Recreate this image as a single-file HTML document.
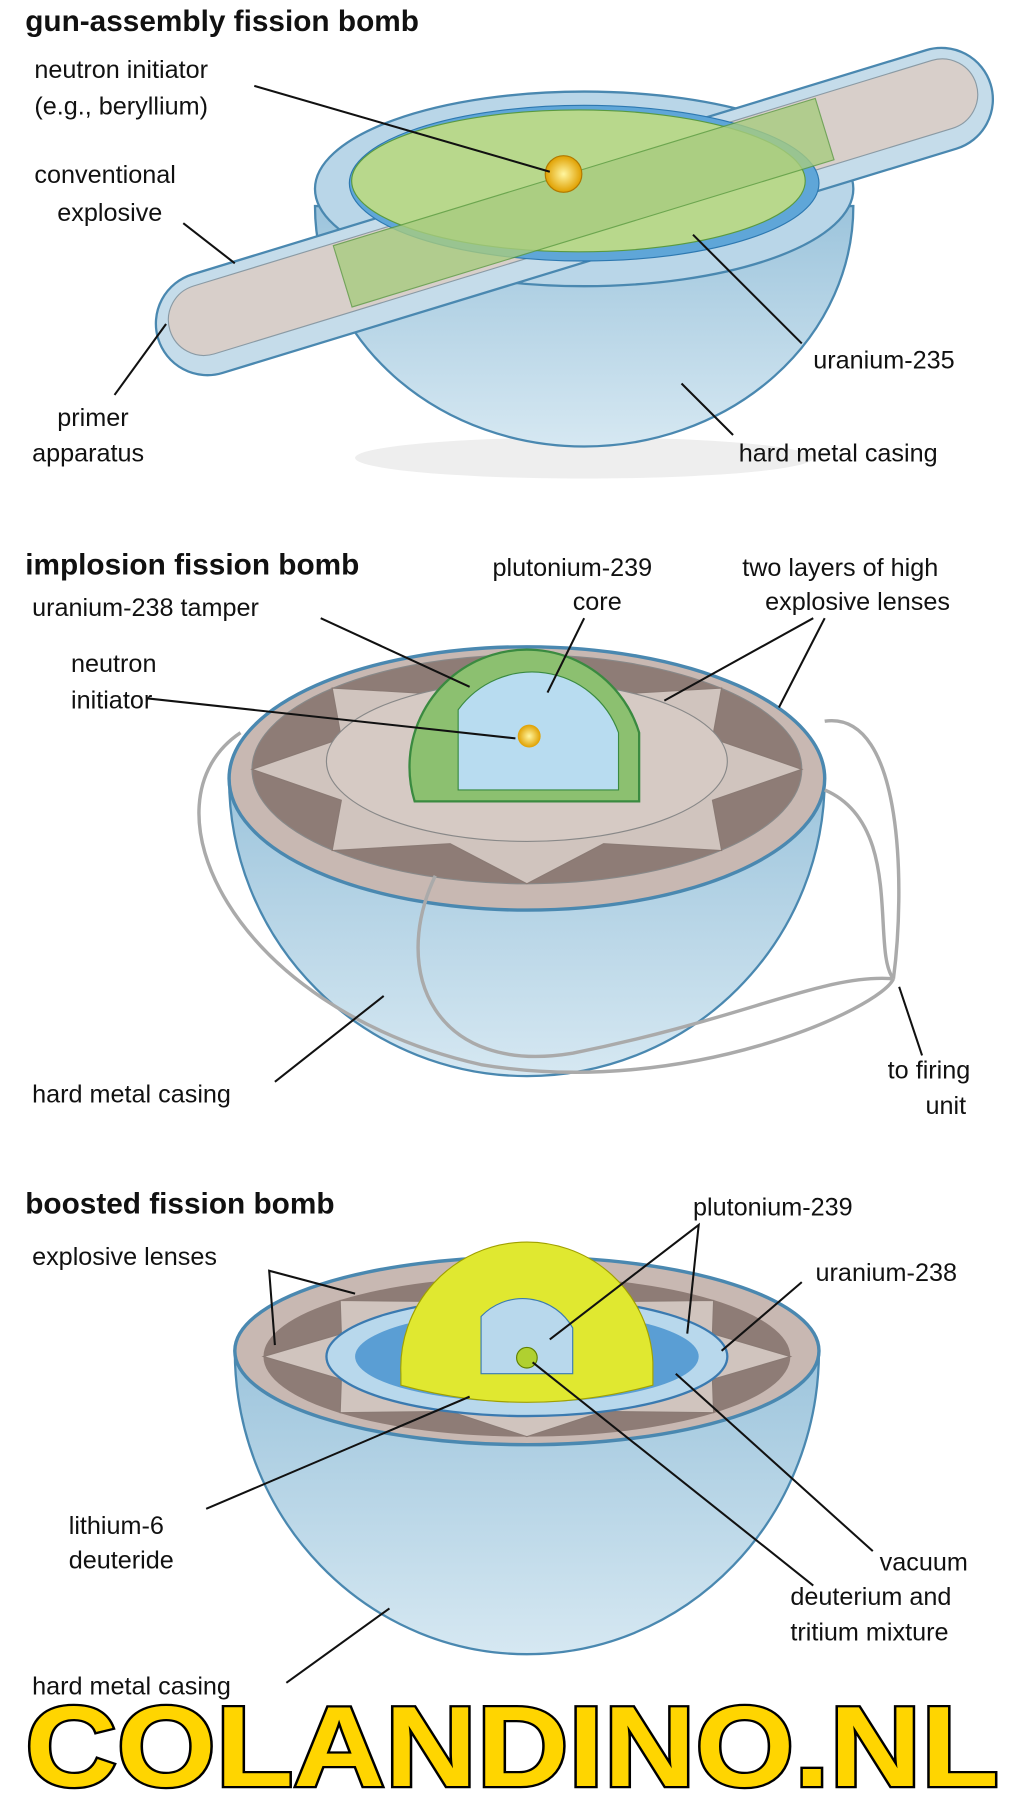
<!DOCTYPE html>
<html><head><meta charset="utf-8"><style>
html,body{margin:0;padding:0;background:#fff;}
svg{display:block;}
text{font-family:"Liberation Sans",sans-serif;fill:#111;}
</style></head><body>
<svg width="1024" height="1795" viewBox="0 0 894 1568" preserveAspectRatio="none" xmlns="http://www.w3.org/2000/svg">
<defs>
<linearGradient id="bowl" x1="0" y1="0" x2="0" y2="1"><stop offset="0" stop-color="#9cc4dc"/><stop offset="1" stop-color="#d6e8f2"/></linearGradient>
<radialGradient id="gold"><stop offset="0" stop-color="#fff6a0"/><stop offset="1" stop-color="#e0a000"/></radialGradient>
</defs>
<!-- GUN -->
<text x="22" y="27" font-size="26" font-weight="bold">gun-assembly fission bomb</text>
<ellipse cx="510" cy="400" rx="200" ry="18" fill="#eee"/>
<path d="M275 180 A235 210 0 0 0 745 180 Z" fill="url(#bowl)" stroke="#4a88b0" stroke-width="2"/>
<ellipse cx="510" cy="165" rx="235" ry="85" fill="#b9d6e8" stroke="#4a88b0" stroke-width="2"/>
<g transform="rotate(-17 500 180)">
<rect x="120" y="140" width="760" height="90" rx="45" fill="#c5dcea" stroke="#4a88b0" stroke-width="2"/>
<rect x="132" y="150" width="736" height="62" rx="31" fill="#d8cfca" stroke="#8a9aa4"/>
</g>
<ellipse cx="510" cy="160" rx="205" ry="68" fill="#5fa6d8" stroke="#2d78b0"/>
<ellipse cx="505" cy="158" rx="198" ry="62" fill="#b8d88c" stroke="#5a9a40"/>
<g transform="rotate(-17 500 180)"><rect x="290" y="152" width="440" height="56" fill="#a8cc80" opacity="0.8" stroke="#5a9a40"/></g>
<circle cx="492" cy="152" r="16" fill="url(#gold)" stroke="#b07800"/>
<g font-size="22">
<text x="30" y="68">neutron initiator</text><text x="30" y="100">(e.g., beryllium)</text>
<text x="30" y="160">conventional</text><text x="50" y="193">explosive</text>
<text x="50" y="372">primer</text><text x="28" y="403">apparatus</text>
<text x="710" y="322">uranium-235</text><text x="645" y="403">hard metal casing</text>
</g>
<g stroke="#111" stroke-width="1.8" fill="none">
<line x1="222" y1="75" x2="480" y2="150"/><line x1="160" y1="195" x2="205" y2="230"/>
<line x1="100" y1="345" x2="145" y2="283"/><line x1="700" y1="300" x2="605" y2="205"/>
<line x1="640" y1="380" x2="595" y2="335"/>
</g>
<!-- IMPLOSION -->
<text x="22" y="502" font-size="26" font-weight="bold">implosion fission bomb</text>
<path d="M200 680 A260 260 0 0 0 720 680 Z" fill="url(#bowl)" stroke="#4a88b0" stroke-width="2"/>
<ellipse cx="460" cy="680" rx="260" ry="115" fill="#c8b8b2" stroke="#4a88b0" stroke-width="3"/>
<ellipse cx="460" cy="672" rx="240" ry="100" fill="#8e7c76" stroke="#888"/>
<polygon points="700,672 622,699 630,743 527,737 460,772 393,737 290,743 298,699 220,672 298,645 290,601 393,607 460,572 527,607 630,601 622,645" fill="#d0c4be" stroke="#8a7a74"/>
<ellipse cx="460" cy="665" rx="175" ry="70" fill="#d6cac4" stroke="#888"/>
<path d="M362 700 A100 100 0 0 1 558 640 L558 700 Z" fill="#8cc070" stroke="#3a8a40" stroke-width="2"/>
<path d="M400 690 L400 620 A80 80 0 0 1 540 640 L540 690 Z" fill="#b8dcf0" stroke="#3a8a40"/>
<circle cx="462" cy="643" r="10" fill="url(#gold)"/>
<g stroke="#aaa" stroke-width="3" fill="none">
<path d="M210 640 C120 700 200 880 420 930 C600 960 770 880 780 855"/>
<path d="M380 765 C340 850 380 940 500 920 C650 890 720 850 780 855"/>
<path d="M720 690 C790 720 760 830 780 855"/>
<path d="M720 630 C790 620 790 780 780 855"/>
</g>
<g font-size="22">
<text x="430" y="503">plutonium-239</text><text x="500" y="533">core</text>
<text x="648" y="503">two layers of high</text><text x="668" y="533">explosive lenses</text>
<text x="28" y="538">uranium-238 tamper</text>
<text x="62" y="587">neutron</text><text x="62" y="619">initiator</text>
<text x="28" y="963">hard metal casing</text>
<text x="775" y="942">to firing</text><text x="808" y="973">unit</text>
</g>
<g stroke="#111" stroke-width="1.8" fill="none">
<line x1="280" y1="540" x2="410" y2="600"/><line x1="510" y1="540" x2="478" y2="605"/>
<line x1="128" y1="610" x2="450" y2="645"/><line x1="710" y1="540" x2="580" y2="612"/>
<line x1="720" y1="540" x2="680" y2="618"/><line x1="240" y1="945" x2="335" y2="870"/>
<line x1="805" y1="922" x2="785" y2="862"/>
</g>
<!-- BOOSTED -->
<text x="22" y="1060" font-size="26" font-weight="bold">boosted fission bomb</text>
<path d="M205 1180 A255 265 0 0 0 715 1180 Z" fill="url(#bowl)" stroke="#4a88b0" stroke-width="2"/>
<ellipse cx="460" cy="1180" rx="255" ry="82" fill="#c8b8b2" stroke="#4a88b0" stroke-width="3"/>
<ellipse cx="460" cy="1185" rx="230" ry="70" fill="#8e7c76"/>
<polygon points="690,1185 622,1205 623,1234 527,1233 460,1255 393,1233 297,1234 298,1205 230,1185 298,1165 297,1136 393,1137 460,1115 527,1137 623,1136 622,1165" fill="#d0c4be" stroke="#8a7a74"/>
<ellipse cx="460" cy="1185" rx="175" ry="52" fill="#b8d8ec" stroke="#3a7ab0" stroke-width="2"/>
<ellipse cx="460" cy="1185" rx="150" ry="40" fill="#5a9ed4"/>
<path d="M350 1200 A110 110 0 0 1 570 1190 L570 1210 Q460 1240 350 1210 Z" fill="#e0e830" stroke="#a0a000"/>
<path d="M420 1200 L420 1150 A50 50 0 0 1 500 1160 L500 1200 Z" fill="#b8d8ec" stroke="#3a7ab0"/>
<circle cx="460" cy="1186" r="9" fill="#b0d030" stroke="#608000"/>
<g font-size="22">
<text x="28" y="1105">explosive lenses</text><text x="605" y="1062">plutonium-239</text>
<text x="712" y="1119">uranium-238</text><text x="60" y="1340">lithium-6</text>
<text x="60" y="1370">deuteride</text><text x="768" y="1372">vacuum</text>
<text x="690" y="1402">deuterium and</text><text x="690" y="1433">tritium mixture</text>
<text x="28" y="1480">hard metal casing</text>
</g>
<g stroke="#111" stroke-width="1.8" fill="none">
<polyline points="240,1175 235,1110 310,1130"/><polyline points="480,1170 610,1070 600,1165"/>
<line x1="700" y1="1120" x2="630" y2="1180"/><line x1="180" y1="1318" x2="410" y2="1220"/>
<line x1="762" y1="1355" x2="590" y2="1200"/><line x1="710" y1="1385" x2="465" y2="1190"/>
<line x1="250" y1="1470" x2="340" y2="1405"/>
</g>
<text x="447" y="1560" font-size="100" font-weight="bold" text-anchor="middle" textLength="850" lengthAdjust="spacingAndGlyphs" style="fill:#ffd500;stroke:#000;stroke-width:4;paint-order:stroke;">COLANDINO.NL</text>
</svg>
</body></html>
